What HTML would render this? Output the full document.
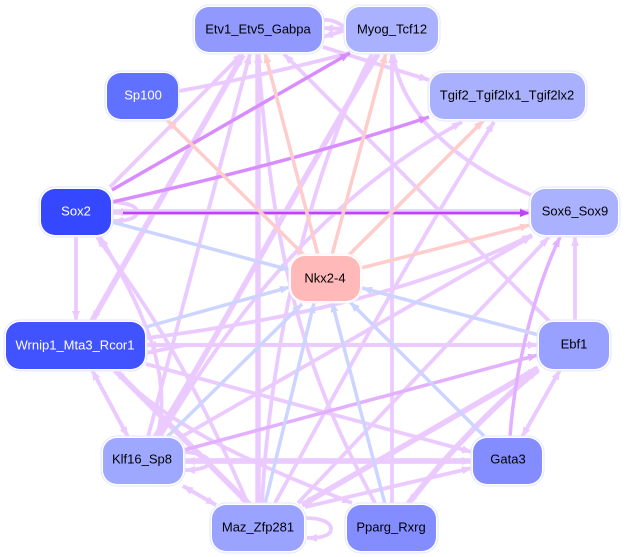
<!DOCTYPE html>
<html><head><meta charset="utf-8"><style>
html,body{margin:0;padding:0;background:#fff}
svg{display:block}
text{font-family:"Liberation Sans",sans-serif;font-size:13px;text-anchor:middle;dominant-baseline:central}
.o{fill:#fff;stroke:#e3e6ff;stroke-width:1}
path{fill:none}
.l{stroke:#ebcbff;stroke-width:3.8}.L{stroke:#ebcbff;stroke-width:5.5}
.p{stroke:#ffcccc;stroke-width:3.5}
.b{stroke:#ccd5ff;stroke-width:3.5}
.m{stroke:#e2b0ff;stroke-width:3.5}
.s{stroke:#d88cff;stroke-width:3.5}
.v{stroke:#c040ff;stroke-width:2.5}
</style></head><body>
<svg width="625" height="557" viewBox="0 0 625 557" xmlns="http://www.w3.org/2000/svg">
<defs>
<marker id="al" markerUnits="userSpaceOnUse" markerWidth="11" markerHeight="10" refX="10" refY="5" orient="auto"><path d="M0 1L10 5L0 9Z" style="fill:#ebcbff"/></marker>
<marker id="ap" markerUnits="userSpaceOnUse" markerWidth="11" markerHeight="10" refX="10" refY="5" orient="auto"><path d="M0 1L10 5L0 9Z" style="fill:#ffcccc"/></marker>
<marker id="ab" markerUnits="userSpaceOnUse" markerWidth="11" markerHeight="10" refX="10" refY="5" orient="auto"><path d="M0 1L10 5L0 9Z" style="fill:#ccd5ff"/></marker>
<marker id="am" markerUnits="userSpaceOnUse" markerWidth="11" markerHeight="10" refX="10" refY="5" orient="auto"><path d="M0 1L10 5L0 9Z" style="fill:#e2b0ff"/></marker>
<marker id="as" markerUnits="userSpaceOnUse" markerWidth="11" markerHeight="10" refX="10" refY="5" orient="auto"><path d="M0 1L10 5L0 9Z" style="fill:#d88cff"/></marker>
<marker id="av" markerUnits="userSpaceOnUse" markerWidth="11" markerHeight="10" refX="10" refY="5" orient="auto"><path d="M0 1L10 5L0 9Z" style="fill:#c040ff"/></marker>
</defs>
<!-- light edges -->
<g marker-end="url(#al)">
<path class="L" d="M120 212L530 212"/>
<path class="L" d="M520 212L113 212"/>
<path class="l" d="M110 187L243 53"/>
<path class="l" d="M76 236L76 321"/>
<path class="l" d="M179 91C240 80 300 66 350 53"/>
<path class="l" d="M346 29L323 28"/>
<path class="l" d="M346 30L323 37"/>
<path class="l" d="M323 47L429 80"/>
<path class="l" d="M531 195C450 160 400 110 393 53"/>
<path class="l" d="M550 322L284 54"/>
<path class="L" d="M92 321L243 55"/>
<path class="L" d="M243 55L92 321"/>
<path class="l" d="M148 437L250 54"/>
<path class="L" d="M155 437C200 370 300 180 378 54"/>
<path class="l" d="M262 504C268 380 300 190 372 54"/>
<path class="L" d="M258 504L258 53"/>
<path class="l" d="M375 503C315 390 275 290 258 53"/>
<path class="l" d="M248 504C190 370 150 310 97 237"/>
<path class="l" d="M157 437C172 380 150 320 100 237"/>
<path class="l" d="M147 338C290 320 420 290 532 235"/>
<path class="l" d="M146 345L538 345"/>
<path class="l" d="M538 345L146 345"/>
<path class="l" d="M185 345L146 353"/>
<path class="l" d="M146 364L472 452"/>
<path class="L" d="M115 370L250 505"/>
<path class="L" d="M250 505L115 370"/>
<path class="l" d="M92 370L128 437"/>
<path class="l" d="M128 437L92 370"/>
<path class="l" d="M115 370C170 430 270 470 352 503"/>
<path class="l" d="M183 436L532 236"/>
<path class="l" d="M298 503L549 237"/>
<path class="L" d="M184 461L472 461"/>
<path class="L" d="M470 461L185 461"/>
<path class="l" d="M183 486L216 505"/>
<path class="l" d="M216 505L183 486"/>
<path class="L" d="M302 505L538 368"/>
<path class="L" d="M538 368L302 505"/>
<path class="l" d="M305 507L472 468"/>
<path class="l" d="M275 503C310 440 400 270 494 122"/>
<path class="l" d="M160 437C195 380 290 215 462 122"/>
<path class="l" d="M392 505L392 53"/>
<path class="L" d="M408 504C450 450 500 400 538 370"/>
<path class="L" d="M538 370C500 400 450 450 408 504"/>
<path class="l" d="M522 437L560 370"/>
<path class="l" d="M560 370L522 437"/>
<path class="l" d="M575 322L575 236"/>
<path class="l" d="M113 202C125 203 137 205 137 212C137 219 125 221 113 221"/>
<path class="l" d="M185 452C197 453 209 456 209 462C209 468 197 470 185 470"/>
<path class="l" d="M306 518C320 518 331 522 331 529C331 536 320 538 307 538"/>
</g>
<path class="l" d="M322 20C332 19 340 23 346 29"/>
<!-- stronger -->
<path class="m" d="M184 450L538 355" marker-end="url(#am)"/>
<path class="m" d="M510 437C514 380 530 300 560 237" marker-end="url(#am)"/>
<path class="s" d="M112 190L350 53" marker-end="url(#as)"/>
<path class="s" d="M112 202C220 178 330 150 429 117" marker-end="url(#as)"/>
<path class="v" d="M123 213L530 213" marker-end="url(#av)"/>
<!-- pink -->
<g marker-end="url(#ap)">
<path class="p" d="M305 256L167 120"/>
<path class="p" d="M318 255L265 53"/>
<path class="p" d="M332 255L386 53"/>
<path class="p" d="M349 255L484 120"/>
<path class="p" d="M361 268L530 225"/>
</g>
<!-- blue -->
<g marker-end="url(#ab)">
<path class="b" d="M112 222L290 270"/>
<path class="b" d="M146 327L290 287"/>
<path class="b" d="M167 437L302 304"/>
<path class="b" d="M265 504L314 303"/>
<path class="b" d="M385 504L332 302"/>
<path class="b" d="M484 436L350 302"/>
<path class="b" d="M539 335L362 288"/>
</g>
<!-- nodes -->
<g>
<rect class="o" x="193" y="5" width="131" height="49" rx="16"/><rect x="195" y="7" width="127" height="45" rx="14" fill="#9199ff"/><text x="258" y="29">Etv1_Etv5_Gabpa</text>
<rect class="o" x="344" y="5" width="96" height="49" rx="16"/><rect x="346" y="7" width="92" height="45" rx="14" fill="#aab2ff"/><text x="392" y="29">Myog_Tcf12</text>
<rect class="o" x="428" y="71" width="159" height="50" rx="16"/><rect x="430" y="73" width="155" height="46" rx="14" fill="#a9b1ff"/><text x="507" y="95">Tgif2_Tgif2lx1_Tgif2lx2</text>
<rect class="o" x="105" y="71" width="74" height="50" rx="16"/><rect x="107" y="73" width="71" height="46" rx="14" fill="#6070ff"/><text x="143" y="95" fill="#fff">Sp100</text>
<rect class="o" x="39" y="187" width="74" height="50" rx="16"/><rect x="41" y="189" width="70" height="46" rx="14" fill="#3648ff"/><text x="76" y="211" fill="#fff">Sox2</text>
<rect class="o" x="529" y="187" width="91" height="50" rx="16"/><rect x="531" y="189" width="87" height="46" rx="14" fill="#aab2ff"/><text x="575" y="211">Sox6_Sox9</text>
<rect class="o" x="289" y="254" width="73" height="49" rx="16" style="stroke:#fff0f0"/><rect x="291" y="256" width="69" height="45" rx="14" fill="#ffb9b9"/><text x="325" y="278">Nkx2-4</text>
<rect class="o" x="4" y="320" width="143" height="51" rx="16"/><rect x="6" y="322" width="139" height="47" rx="14" fill="#4153ff"/><text x="75" y="345" fill="#fff">Wrnip1_Mta3_Rcor1</text>
<rect class="o" x="537" y="320" width="74" height="51" rx="16"/><rect x="539" y="322" width="70" height="47" rx="14" fill="#98a1ff"/><text x="574" y="344">Ebf1</text>
<rect class="o" x="101" y="436" width="84" height="50" rx="16"/><rect x="103" y="438" width="80" height="46" rx="14" fill="#9fa8ff"/><text x="142" y="459">Klf16_Sp8</text>
<rect class="o" x="471" y="436" width="73" height="50" rx="16"/><rect x="473" y="438" width="69" height="46" rx="14" fill="#838dff"/><text x="508" y="459">Gata3</text>
<rect class="o" x="210" y="503" width="96" height="50" rx="16"/><rect x="212" y="505" width="92" height="46" rx="14" fill="#9aa3ff"/><text x="258" y="527">Maz_Zfp281</text>
<rect class="o" x="345" y="503" width="93" height="50" rx="16"/><rect x="347" y="505" width="89" height="46" rx="14" fill="#838dff"/><text x="391" y="527">Pparg_Rxrg</text>
</g>
</svg>
</body></html>
